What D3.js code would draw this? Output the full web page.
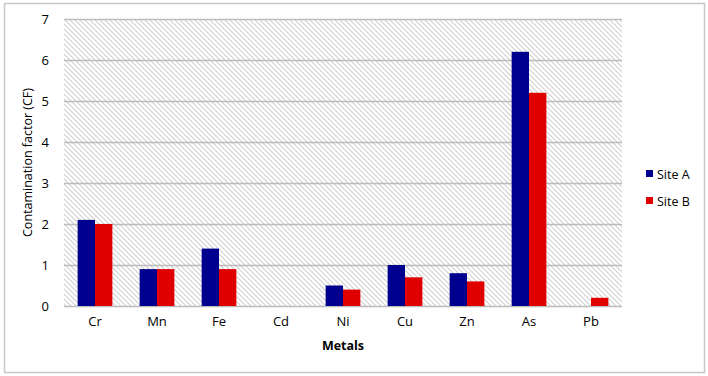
<!DOCTYPE html>
<html>
<head>
<meta charset="utf-8">
<script src="https://cdn.jsdelivr.net/npm/d3@7"></script>
<style>
  body { margin: 0; background: #fff; }
  text { font-family: "Open Sans", "Noto Sans", sans-serif; fill: #000; }
</style>
</head>
<body>
<div id="viz_container"></div>
<script>
// chart data
const metals = ["Cr", "Mn", "Fe", "Cd", "Ni", "Cu", "Zn", "As", "Pb"];
const siteA = [2.1, 0.9, 1.4, 0, 0.5, 1.0, 0.8, 6.2, 0];
const siteB = [2.0, 0.9, 0.9, 0, 0.4, 0.7, 0.6, 5.2, 0.2];
const seriesNames = ["Site A", "Site B"];
const seriesColors = ["#00008f", "#e00000"];
const yTicks = [0, 1, 2, 3, 4, 5, 6, 7];

const width = 708, height = 376;
const margin = { top: 19, right: 86, bottom: 70, left: 64 };

const svg = d3.select("#viz_container")
  .append("svg")
    .attr("width", width)
    .attr("height", height);

// outer frame
svg.append("rect")
  .attr("x", 4.5).attr("y", 3.5)
  .attr("width", 700).attr("height", 369)
  .attr("fill", "#fff")
  .attr("stroke", "#c8c8c8")
  .attr("stroke-width", 1.5);

// hatch pattern for plot background
const pat = svg.append("defs").append("pattern")
  .attr("id", "hatch")
  .attr("patternUnits", "userSpaceOnUse")
  .attr("width", 5).attr("height", 5);
pat.append("rect").attr("width", 5).attr("height", 5).attr("fill", "#fff");
pat.append("path")
  .attr("d", "M-1,-1 L6,6 M-1,4 L1,6 M4,-1 L6,1")
  .attr("stroke", "#d2d2d2")
  .attr("stroke-width", 1.2);

const x0 = d3.scaleBand()
  .domain(metals)
  .range([margin.left, width - margin.right])
  .paddingInner(0.44)
  .paddingOuter(0.22);

const x1 = d3.scaleBand()
  .domain(seriesNames)
  .range([0, x0.bandwidth()]);

const y = d3.scaleLinear()
  .domain([0, 7])
  .range([height - margin.bottom, margin.top]);

const g = svg.append("g");

g.append("rect")
  .attr("x", margin.left)
  .attr("y", margin.top)
  .attr("width", width - margin.left - margin.right)
  .attr("height", y(0) - margin.top)
  .attr("fill", "url(#hatch)");

// gridlines
g.selectAll(".grid")
  .data(yTicks)
  .join("line")
    .attr("x1", margin.left)
    .attr("x2", width - margin.right)
    .attr("y1", d => Math.round(y(d)) + 0.5)
    .attr("y2", d => Math.round(y(d)) + 0.5)
    .attr("stroke", "#bcbcbc")
    .attr("stroke-width", 1.5);

// Y axis labels
const yAxis = svg.append("g")
  .attr("transform", `translate(${margin.left - 15},0)`)
  .call(d3.axisLeft(y).tickValues(yTicks).tickFormat(d3.format("d")).tickSize(0).tickPadding(0));
yAxis.select(".domain").remove();
yAxis.selectAll("text")
  .style("font-family", '"Open Sans", sans-serif')
  .style("font-size", "13px")
  .attr("fill", "#000");

// X axis labels
const xAxis = svg.append("g")
  .attr("transform", `translate(0,${y(0)})`)
  .call(d3.axisBottom(x0).tickSize(0).tickPadding(11));
xAxis.select(".domain").remove();
xAxis.selectAll("text")
  .style("font-family", '"Open Sans", sans-serif')
  .style("font-size", "13px")
  .attr("fill", "#000");

// bars
const rows = metals.map((m, i) => ({ metal: m, values: [siteA[i], siteB[i]] }));
g.selectAll(".grp")
  .data(rows)
  .join("g")
    .attr("transform", d => `translate(${x0(d.metal)},0)`)
  .selectAll("rect")
  .data(d => d.values.map((v, j) => ({ key: seriesNames[j], v, c: seriesColors[j] })))
  .join("rect")
    .attr("x", d => x1(d.key))
    .attr("y", d => y(d.v))
    .attr("width", x1.bandwidth())
    .attr("height", d => y(0) - y(d.v))
    .attr("fill", d => d.c);

// axis titles
svg.append("text")
  .attr("transform", `translate(32,${(margin.top + y(0)) / 2}) rotate(-90)`)
  .attr("text-anchor", "middle")
  .style("font-size", "12.5px")
  .text("Contamination factor (CF)");

svg.append("text")
  .attr("x", (margin.left + width - margin.right) / 2)
  .attr("y", 350)
  .attr("text-anchor", "middle")
  .style("font-size", "12.5px")
  .style("font-weight", "bold")
  .text("Metals");

// legend
const legend = svg.append("g")
  .selectAll("g")
  .data(seriesNames)
  .join("g")
    .attr("transform", (d, i) => `translate(646,${174 + i * 27})`);
legend.append("rect")
  .attr("x", 0).attr("y", -4)
  .attr("width", 7).attr("height", 7)
  .attr("fill", (d, i) => seriesColors[i]);
legend.append("text")
  .attr("x", 11).attr("y", 4.5)
  .style("font-size", "12.5px")
  .text(d => d);
</script>
</body>
</html>
